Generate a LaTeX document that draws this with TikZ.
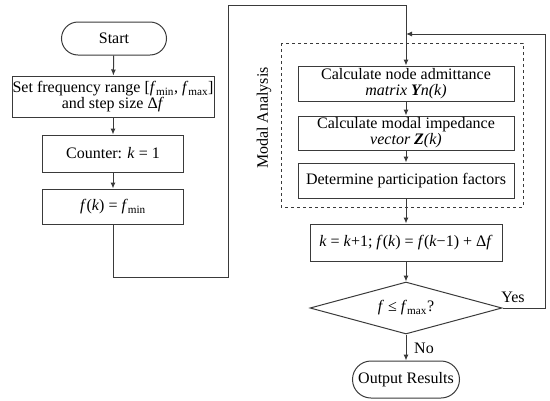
\documentclass[tikz,border=0pt]{standalone}
\usepackage{fontspec}
\setmainfont{Liberation Serif}
\usetikzlibrary{arrows.meta,shapes.geometric}
\definecolor{lc}{HTML}{3A3A3A}
\begin{document}
\begin{tikzpicture}[x=1pt,y=-1pt,
  every node/.style={font=\fontsize{16}{16}\selectfont, text=black},
  boxnode/.style={draw=lc, line width=1pt, rectangle, align=center, inner sep=0pt},
  termnode/.style={boxnode, rounded corners=#1},
  decnode/.style={draw=lc, line width=1pt, diamond, aspect=3.7, inner sep=0pt, align=center},
  conn/.style={draw=lc, line width=1pt},
  arr/.style={conn, -{Latex[length=6pt,width=5pt]}}
]
\useasboundingbox (0,0) rectangle (550,400);

\node[termnode=16.5pt, minimum width=105pt, minimum height=33pt] (start) at (114,38.5) {Start};
\node[boxnode, minimum width=202pt, minimum height=41pt] (setf) at (113,96.5)
  {Set frequency range [\textit{f}\textsubscript{min}, \textit{f}\textsubscript{max}]\\and step size Δ\textit{f}};
\node[boxnode, minimum width=141pt, minimum height=37pt] (counter) at (113,153.5) {Counter: \textit{k} = 1};
\node[boxnode, minimum width=141pt, minimum height=35pt] (fk) at (113,206.5)
  {\textit{f}(\textit{k}) = \textit{f}\textsubscript{min}};

\draw[lc, line width=1pt, dashed] (281,43) rectangle (523,207);
\node[rotate=90] (modal) at (264,118) {Modal Analysis};

\node[boxnode, minimum width=216pt, minimum height=35pt] (b1) at (406,83.5)
  {Calculate node admittance\\\textit{matrix \textbf{Y}n(k)}};
\node[boxnode, minimum width=216pt, minimum height=34pt] (b2) at (406,133)
  {Calculate modal impedance\\\textit{vector \textbf{Z}(k)}};
\node[boxnode, minimum width=216pt, minimum height=35pt] (b3) at (406,180.5)
  {Determine participation factors};
\node[boxnode, minimum width=192pt, minimum height=37pt] (b4) at (406,242.5)
  {\textit{k} = \textit{k}+1; \textit{f}(\textit{k}) = \textit{f}(\textit{k}−1) + Δ\textit{f}};
\node[decnode, minimum width=192pt, minimum height=52pt] (dia) at (406,308)
  {\textit{f} ≤ \textit{f}\textsubscript{max}?};
\node[termnode=18.5pt, minimum width=107pt, minimum height=37pt] (out) at (406,379.5) {Output Results};

\node (yes) at (513,297) {Yes};
\node (no) at (424,348) {No};

\coordinate (yesend) at (406,34);

\draw[arr] (start) -- (setf);
\draw[arr] (setf) -- (counter);
\draw[arr] (counter) -- (fk);
\draw[arr] (fk.south) -- (113,277) -- (228,277) -- (228,5) -- (406,5) -- (b1.north);
\draw[arr] (b1) -- (b2);
\draw[arr] (b2) -- (b3);
\draw[arr] (b3) -- (b4);
\draw[arr] (b4) -- (dia);
\draw[arr] (dia) -- (out);
\draw[arr] (dia.east) -- (545,308) -- (545,34) -- (yesend);
\end{tikzpicture}
\end{document}
